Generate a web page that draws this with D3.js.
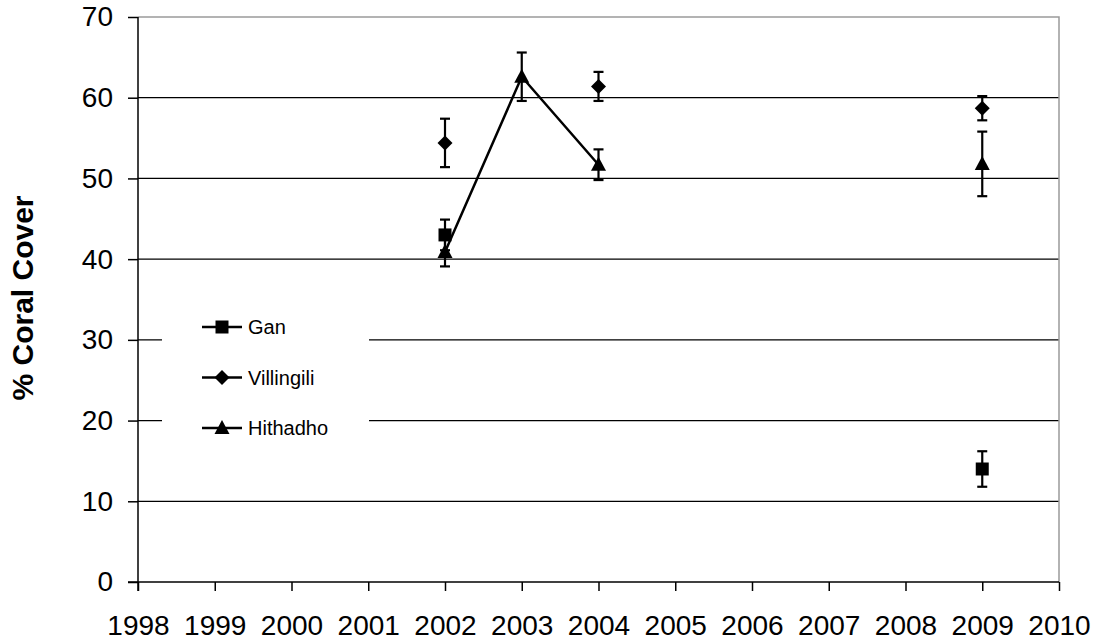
<!DOCTYPE html>
<html lang="en">
<head>
<meta charset="UTF-8">
<title>Coral cover</title>
<style>
  body { margin: 0; background: #fff; }
  text { font-family: Arial, "Liberation Sans", sans-serif; fill: #000; }
</style>
</head>
<body>
<script src="https://cdn.jsdelivr.net/npm/d3@7"></script>
<script>
// years on the category axis
var years = [1998, 1999, 2000, 2001, 2002, 2003, 2004, 2005, 2006, 2007, 2008, 2009, 2010]
var yTicks = [0, 10, 20, 30, 40, 50, 60, 70]

// null = no survey that year
var ganVals       = [null, null, null, null, 43.0, null, null, null, null, null, null, 14.0, null]
var ganErr        = [null, null, null, null, 1.9,  null, null, null, null, null, null, 2.2,  null]
var villingiliVals= [null, null, null, null, 54.4, null, 61.4, null, null, null, null, 58.7, null]
var villingiliErr = [null, null, null, null, 3.0,  null, 1.8,  null, null, null, null, 1.5,  null]
var hithadhoVals  = [null, null, null, null, 40.9, 62.6, 51.7, null, null, null, null, 51.8, null]
var hithadhoErr   = [null, null, null, null, 1.8,  3.0,  1.9,  null, null, null, null, 4.0,  null]

// excel-like marker shapes
var mkSquare = {draw: function (c, s) { var h = 6.5; c.rect(-h, -h, 2 * h, 2 * h) }}
var mkDiamond = {draw: function (c, s) { var h = 7.5; c.moveTo(0, -h); c.lineTo(h, 0); c.lineTo(0, h); c.lineTo(-h, 0); c.closePath() }}
var mkTriangle = {draw: function (c, s) { c.moveTo(0, -8); c.lineTo(7.5, 6); c.lineTo(-7.5, 6); c.closePath() }}

var series = [
  {name: 'Gan', vals: ganVals, err: ganErr, symbol: mkSquare},
  {name: 'Villingili', vals: villingiliVals, err: villingiliErr, symbol: mkDiamond},
  {name: 'Hithadho', vals: hithadhoVals, err: hithadhoErr, symbol: mkTriangle}
]

var W = 1097, H = 643
var m = {left: 138, right: 1059, top: 17, bottom: 582}

var svg = d3.select('body').append('svg').attr('width', W).attr('height', H)

var x = d3.scaleLinear().domain([1998, 2010]).range([m.left, m.right])
var y = d3.scaleLinear().domain([0, 70]).range([m.bottom, m.top])

// gridlines
svg.append('g').selectAll('line').data(yTicks.filter(d => d > 0 && d < 70)).enter().append('line')
  .attr('x1', m.left).attr('x2', m.right)
  .attr('y1', d => y(d)).attr('y2', d => y(d))
  .attr('stroke', '#000').attr('stroke-width', 1.2)

// gray frame top/right
svg.append('path')
  .attr('d', `M${m.left},${m.top}H${m.right}V${m.bottom}`)
  .attr('fill', 'none').attr('stroke', '#9a9a9a').attr('stroke-width', 1.5)

// y axis
var yAxis = d3.axisLeft(y).tickValues(yTicks).tickSize(10).tickPadding(15)
var gy = svg.append('g').attr('transform', `translate(${m.left},0)`).call(yAxis)
gy.select('.domain').remove()
gy.append('line').attr('x1', 0).attr('x2', 0).attr('y1', m.top).attr('y2', m.bottom + 9)
  .attr('stroke', '#000').attr('stroke-width', 1.5)
gy.selectAll('.tick line').attr('stroke', '#000').attr('stroke-width', 1.5)
gy.selectAll('.tick text').attr('font-size', 28).attr('font-family', 'Arial, "Liberation Sans", sans-serif')

// x axis
var xAxis = d3.axisBottom(x).tickValues(years).tickFormat(d3.format('d')).tickSize(9).tickPadding(24)
var gx = svg.append('g').attr('transform', `translate(0,${m.bottom})`).call(xAxis)
gx.select('.domain').remove()
gx.append('line').attr('x1', m.left - 10).attr('x2', m.right).attr('y1', 0).attr('y2', 0)
  .attr('stroke', '#000').attr('stroke-width', 1.5)
gx.selectAll('.tick line').attr('stroke', '#000').attr('stroke-width', 1.5)
gx.selectAll('.tick text').attr('font-size', 28).attr('font-family', 'Arial, "Liberation Sans", sans-serif')

// y title
svg.append('text')
  .attr('transform', 'translate(33,298) rotate(-90)')
  .attr('text-anchor', 'middle')
  .attr('font-size', 30).attr('font-weight', 'bold')
  .text('% Coral Cover')

// legend box (hides gridlines behind it)
var lg = svg.append('g')
lg.append('rect').attr('x', 162).attr('y', 300).attr('width', 207).attr('height', 145).attr('fill', '#fff')

// series
var line = d3.line().defined(d => d.v != null).x(d => x(d.year)).y(d => y(d.v))
series.forEach(function (s) {
  var pts = years.map((yr, i) => ({year: yr, v: s.vals[i], e: s.err[i]}))
  var g = svg.append('g')
  g.append('path').datum(pts).attr('d', line)
    .attr('fill', 'none').attr('stroke', '#000').attr('stroke-width', 2.5)
  var pp = pts.filter(d => d.v != null)
  var eb = g.selectAll('g.eb').data(pp).enter().append('g')
  eb.append('line').attr('x1', d => x(d.year)).attr('x2', d => x(d.year))
    .attr('y1', d => y(d.v + d.e)).attr('y2', d => y(d.v - d.e))
    .attr('stroke', '#000').attr('stroke-width', 2.2)
  eb.selectAll('line.cap').data(d => [d.v + d.e, d.v - d.e].map(v => ({year: d.year, v: v}))).enter()
    .append('line').attr('class', 'cap')
    .attr('x1', d => x(d.year) - 5).attr('x2', d => x(d.year) + 5)
    .attr('y1', d => y(d.v)).attr('y2', d => y(d.v))
    .attr('stroke', '#000').attr('stroke-width', 2.2)
  g.selectAll('path.mk').data(pp).enter().append('path').attr('class', 'mk')
    .attr('transform', d => `translate(${x(d.year)},${y(d.v)})`)
    .attr('d', d3.symbol().type(s.symbol))
    .attr('fill', '#000')
})

// legend entries
var ly = d3.scalePoint().domain(series.map(s => s.name)).range([327, 428])
series.forEach(function (s) {
  var yy = ly(s.name)
  lg.append('line').attr('x1', 202).attr('x2', 242).attr('y1', yy).attr('y2', yy)
    .attr('stroke', '#000').attr('stroke-width', 2.5)
  lg.append('path').attr('transform', `translate(222,${yy})`)
    .attr('d', d3.symbol().type(s.symbol)).attr('fill', '#000')
  lg.append('text').attr('x', 248).attr('y', yy).attr('dy', '0.35em')
    .attr('font-size', 20).text(s.name)
})
</script>
</body>
</html>
